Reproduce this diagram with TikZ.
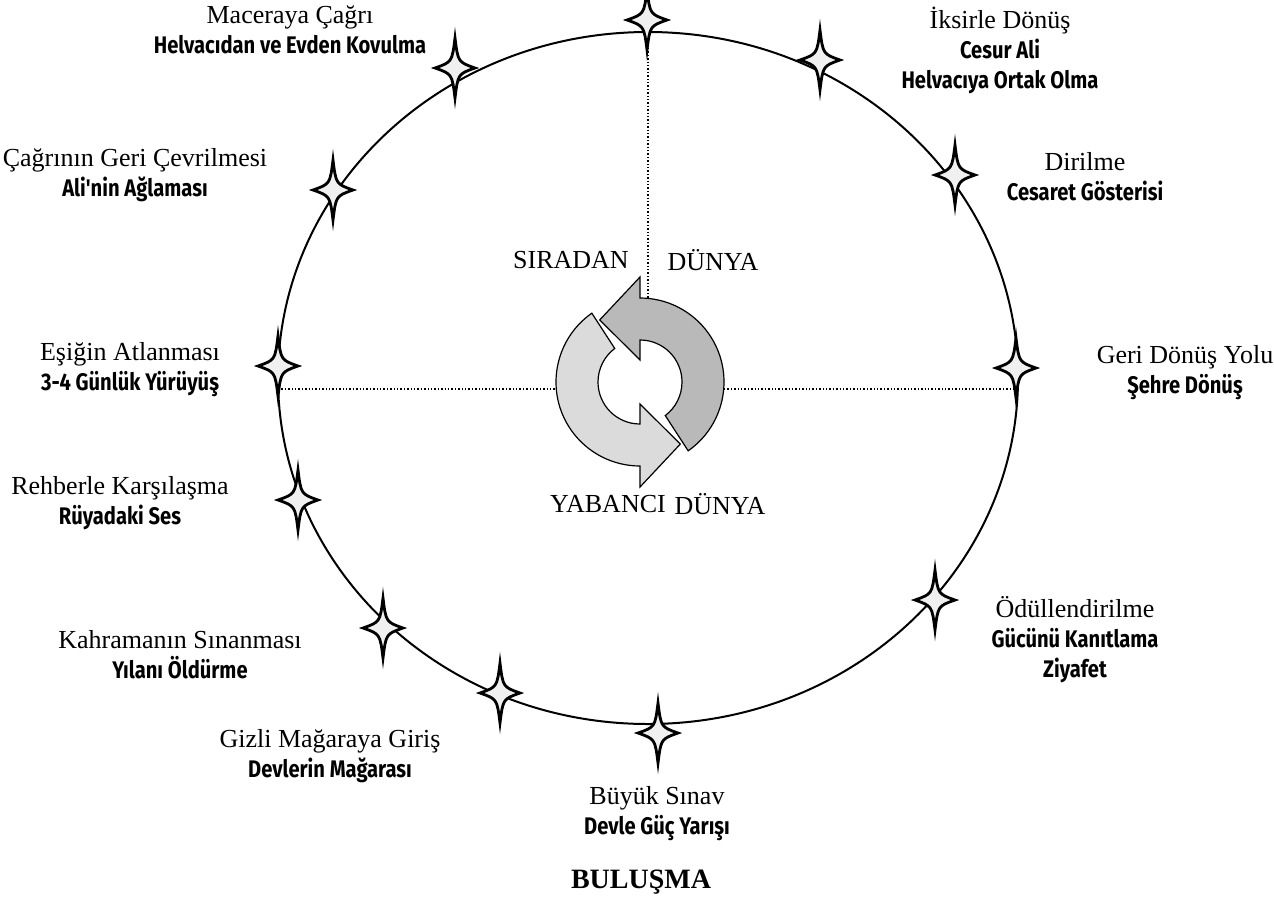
\documentclass[tikz,border=0pt]{standalone}
\usepackage{fontspec}
\setmainfont{Liberation Serif}
\newfontfamily\handfont[FakeStretch=0.84]{Fira Sans}
\usetikzlibrary{calc,shapes.geometric}

\newcommand{\sub}{\handfont\bfseries\fontsize{12}{15}\selectfont}

\tikzset{
  stage/.style={align=center, font=\fontsize{13}{15}\selectfont},
  guide/.style={densely dotted, line width=0.7pt},
  sparkle/.pic={
    \draw[line width=1.4pt, fill=gray!12]
      (0,-30) .. controls (3,-6) .. (20,0) .. controls (3,6) .. (0,30)
      .. controls (-3,6) .. (-20,0) .. controls (-3,-6) .. (0,-30) -- cycle;
  }
}

\begin{document}
\begin{tikzpicture}[x=0.5pt, y=-0.5pt]
\useasboundingbox (0,0) rectangle (1274,911);

% the journey circle
\node[draw, ellipse, line width=1pt, minimum width=370pt, minimum height=346pt, inner sep=0pt] (world) at (648,378) {};

% guides
\coordinate (hub) at (640,382);
\coordinate (ringN) at (648,299);
\coordinate (ringW) at (556,389);
\coordinate (ringE) at (724,389);
\coordinate (rimW) at (278,389);
\coordinate (rimE) at (1018,389);
\draw[guide] (world.north) -- (ringN);
\draw[guide] (rimW) -- (ringW);
\draw[guide] (ringE) -- (rimE);

% cycle arrows
\draw[fill=gray!55, line width=0.6pt]
  ($(hub)+(-53:21pt)$) -- ($(hub)+(-55:42pt)$) arc[start angle=-55, end angle=90, radius=42pt]
  -- ($(hub)+(90:52.5pt)$) -- ($(hub)+(123:37pt)$) -- ($(hub)+(90:11pt)$)
  -- ($(hub)+(90:21pt)$) arc[start angle=90, end angle=-53, radius=21pt] -- cycle;
\draw[fill=gray!28, line width=0.6pt]
  ($(hub)+(127:21pt)$) -- ($(hub)+(125:42pt)$) arc[start angle=125, end angle=270, radius=42pt]
  -- ($(hub)+(270:52.5pt)$) -- ($(hub)+(303:37pt)$) -- ($(hub)+(270:11pt)$)
  -- ($(hub)+(270:21pt)$) arc[start angle=270, end angle=127, radius=21pt] -- cycle;

% stars
\pic at (647,20) {sparkle};
\pic at (455,68) {sparkle};
\pic at (820,60) {sparkle};
\pic at (333,190) {sparkle};
\pic at (955,175) {sparkle};
\pic at (278,366) {sparkle};
\pic at (1016,368) {sparkle};
\pic at (298,500) {sparkle};
\pic at (935,600) {sparkle};
\pic at (383,628) {sparkle};
\pic at (500,693) {sparkle};
\pic at (658,733) {sparkle};

% stages
\node[stage] (call) at (290,30) {Maceraya Çağrı\\\sub Helvacıdan ve Evden Kovulma};
\node[stage] (elixir) at (1000,50) {İksirle Dönüş\\\sub Cesur Ali\\\sub Helvacıya Ortak Olma};
\node[stage] (refusal) at (135,175) {Çağrının Geri Çevrilmesi\\\sub Ali'nin Ağlaması};
\node[stage] (rebirth) at (1085,177) {Dirilme\\\sub Cesaret Gösterisi};
\node[stage] (threshold) at (130,370) {Eşiğin Atlanması\\\sub 3-4 Günlük Yürüyüş};
\node[stage] (roadback) at (1185,373) {Geri Dönüş Yolu\\\sub Şehre Dönüş};
\node[stage] (mentor) at (120,503) {Rehberle Karşılaşma\\\sub Rüyadaki Ses};
\node[stage] (reward) at (1075,640) {Ödüllendirilme\\\sub Gücünü Kanıtlama\\\sub Ziyafet};
\node[stage] (test) at (180,655) {Kahramanın Sınanması\\\sub Yılanı Öldürme};
\node[stage] (cave) at (330,756) {Gizli Mağaraya Giriş\\\sub Devlerin Mağarası};
\node[stage] (ordeal) at (657,814) {Büyük Sınav\\\sub Devle Güç Yarışı};
\node[font=\bfseries\fontsize{14}{16}\selectfont] (meeting) at (641,882) {BULUŞMA};

% worlds
\node[stage] (ordinary) at (571,260) {SIRADAN};
\node[stage] (ordinaryW) at (713,260) {DÜNYA};
\node[stage] (special) at (608,504) {YABANCI};
\node[stage] (specialW) at (720,504) {DÜNYA};
\end{tikzpicture}
\end{document}
